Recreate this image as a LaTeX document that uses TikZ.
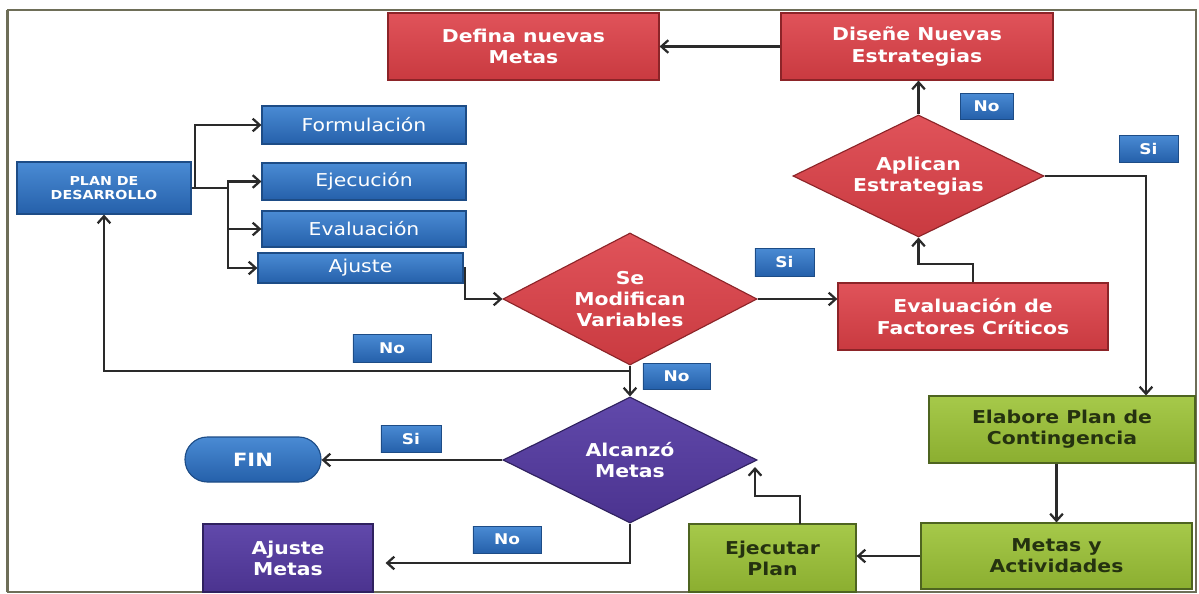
\documentclass[tikz,border=0pt]{standalone}
\usepackage{fontspec}
\setmainfont{DejaVu Sans}[FakeStretch=1.15]
\usetikzlibrary{arrows.meta,shapes.geometric}

\definecolor{bluetop}{HTML}{4A8BD4}
\definecolor{bluebot}{HTML}{2560AA}
\definecolor{blueedge}{HTML}{1D4C86}
\definecolor{redtop}{HTML}{E0535A}
\definecolor{redbot}{HTML}{C93A40}
\definecolor{rededge}{HTML}{8C2428}
\definecolor{purtop}{HTML}{6149AB}
\definecolor{purbot}{HTML}{4B338F}
\definecolor{puredge}{HTML}{2F215F}
\definecolor{grntop}{HTML}{A6C94A}
\definecolor{grnbot}{HTML}{8BAE30}
\definecolor{grnedge}{HTML}{4E6420}
\definecolor{grntext}{HTML}{253210}
\definecolor{wire}{HTML}{2A2A2A}
\definecolor{framecol}{HTML}{6E6E58}

\begin{document}
\begin{tikzpicture}[x=0.025cm, y=-0.025cm,
  shape base/.style={line width=0.8pt, inner sep=0pt, align=center, text=white,
    font=\bfseries\fontsize{12.6}{15}\selectfont},
  redbox/.style={shape base, draw=rededge, top color=redtop, bottom color=redbot},
  bluebox/.style={shape base, draw=blueedge, top color=bluetop, bottom color=bluebot},
  subbox/.style={bluebox, font=\fontsize{12.6}{15}\selectfont},
  purbox/.style={shape base, draw=puredge, top color=purtop, bottom color=purbot},
  grnbox/.style={shape base, draw=grnedge, top color=grntop, bottom color=grnbot, text=grntext},
  decision/.style={diamond, aspect=2},
  tag/.style={draw=blueedge, line width=0.6pt, top color=bluetop, bottom color=bluebot,
    text=white, inner sep=0pt, font=\bfseries\fontsize{10.5}{12}\selectfont},
  arr/.style={draw=wire, line width=1.6pt, -{Straight Barb[length=5pt,width=9pt]}},
  link/.style={draw=wire, line width=1.6pt}
]
\useasboundingbox (0,0) rectangle (1199,593);
\fill[white] (0,0) rectangle (1199,593);
\draw[framecol, line width=1pt] (7.5,10) rectangle (1196,592);
\draw[framecol, line width=1.6pt] (7.5,10) -- (7.5,592);

% top row
\node[redbox, minimum width=6.775cm, minimum height=1.675cm] (defina) at (523.5,46.5) {Defina nuevas\\Metas};
\node[redbox, minimum width=6.8cm, minimum height=1.675cm] (disene) at (917,46.5) {Diseñe Nuevas\\Estrategias};

% development plan and its phases
\node[bluebox, minimum width=4.35cm, minimum height=1.3cm,
      font=\bfseries\fontsize{8.8}{10}\selectfont] (plan) at (104,188) {PLAN DE\\DESARROLLO};
\node[subbox, minimum width=5.1cm, minimum height=0.95cm] (form) at (364,125) {Formulación};
\node[subbox, minimum width=5.1cm, minimum height=0.925cm] (ejec) at (364,181.5) {Ejecución};
\node[subbox, minimum width=5.1cm, minimum height=0.9cm] (eval) at (364,229) {Evaluación};
\node[subbox, minimum width=5.125cm, minimum height=0.75cm] (ajuste) at (360.5,268) {Ajuste};

% decisions
\node[redbox, decision, minimum width=6.35cm, minimum height=3.3cm] (semod) at (630,299) {Se\\Modifican\\Variables};
\node[redbox, decision, minimum width=6.275cm, minimum height=3.05cm] (aplican) at (918.5,176) {Aplican\\Estrategias};
\node[purbox, decision, minimum width=6.35cm, minimum height=3.15cm] (alcanzo) at (630,460) {Alcanzó\\Metas};

\node[redbox, minimum width=6.75cm, minimum height=1.675cm] (evalfc) at (973,316.5) {Evaluación de\\Factores Críticos};

% lower part
\node[bluebox, minimum width=3.4cm, minimum height=1.125cm, rounded corners=0.56cm,
      font=\bfseries\fontsize{13}{15}\selectfont] (fin) at (253,459.5) {FIN};
\node[purbox, minimum width=4.25cm, minimum height=1.7cm] (ajmetas) at (288,558) {Ajuste\\Metas};
\node[grnbox, minimum width=6.65cm, minimum height=1.675cm] (elabore) at (1062,429.5) {Elabore Plan de\\Contingencia};
\node[grnbox, minimum width=6.775cm, minimum height=1.65cm] (metas) at (1056.5,556) {Metas y\\Actividades};
\node[grnbox, minimum width=4.175cm, minimum height=1.7cm] (ejecutar) at (772.5,558) {Ejecutar\\Plan};

% answer tags
\node[tag, minimum width=1.325cm, minimum height=0.65cm] (no1) at (986.5,106) {No};
\node[tag, minimum width=1.475cm, minimum height=0.675cm] (si1) at (1148.5,148.5) {Si};
\node[tag, minimum width=1.475cm, minimum height=0.7cm] (si2) at (784.5,262) {Si};
\node[tag, minimum width=1.95cm, minimum height=0.7cm] (no2) at (392,348) {No};
\node[tag, minimum width=1.675cm, minimum height=0.65cm] (no3) at (676.5,376) {No};
\node[tag, minimum width=1.5cm, minimum height=0.675cm] (si3) at (411,438.5) {Si};
\node[tag, minimum width=1.7cm, minimum height=0.675cm] (no4) at (507,539.5) {No};

% junction points
\coordinate (j0) at (195,188);
\coordinate (j1) at (228,188);
\coordinate (j2) at (465,299);
\coordinate (j3) at (630,371);
\coordinate (j4) at (630,563);
\coordinate (j5) at (800,524);
\coordinate (j6) at (755,496);
\coordinate (j7) at (755,467);
\coordinate (j8) at (1146,176);
\coordinate (j9) at (973,264);

% connectors
\draw[link] (plan.east) -- (j1);
\draw[arr] (j0) |- (form.west);
\draw[arr] (j1) |- (ejec.west);
\draw[arr] (j1) |- (eval.west);
\draw[arr] (j1) |- (ajuste.west);
\draw[arr] (ajuste.east) -| (j2) -- (semod.west);
\draw[arr] (semod.east) -- (semod.east -| evalfc.west);
\draw[arr] (evalfc.north) -- (j9) -| (aplican.south);
\draw[arr] (aplican.north) -- (aplican.north |- disene.south);
\draw[arr] (disene.west) -- (defina.east);
\draw[arr] (aplican.east) -- (j8) -- (j8 |- elabore.north);
\draw[arr] (metas.north |- elabore.south) -- (metas.north);
\draw[arr] (metas.west) -- (metas.west -| ejecutar.east);
\draw[arr] (j5) |- (j6) -- (j7);
\draw[arr] (semod.south) -- (alcanzo.north);
\draw[arr] (j3) -| (plan.south);
\draw[arr] (alcanzo.west) -- (alcanzo.west -| fin.east);
\draw[arr, shorten >=0.3cm] (alcanzo.south) -- (j4) -- (j4 -| ajmetas.east);
\end{tikzpicture}
\end{document}
